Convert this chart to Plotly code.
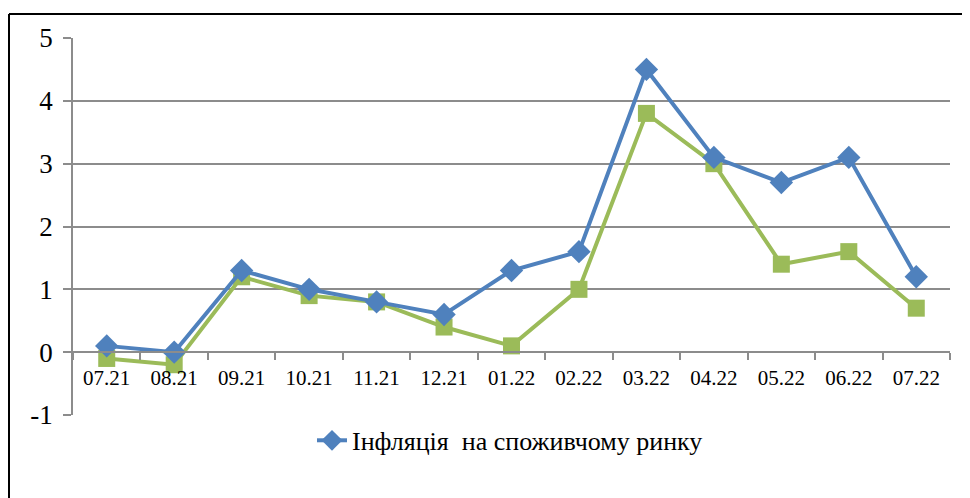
import plotly.graph_objects as go

categories = ["07.21", "08.21", "09.21", "10.21", "11.21", "12.21", "01.22",
              "02.22", "03.22", "04.22", "05.22", "06.22", "07.22"]
inflation_consumer = [0.1, 0.0, 1.3, 1.0, 0.8, 0.6, 1.3, 1.6, 4.5, 3.1, 2.7, 3.1, 1.2]
second_series = [-0.1, -0.2, 1.2, 0.9, 0.8, 0.4, 0.1, 1.0, 3.8, 3.0, 1.4, 1.6, 0.7]
y_ticks = [-1, 0, 1, 2, 3, 4, 5]
legend_label = "Інфляція  на споживчому ринку"

OFF = 8  # default page body margin
W, H = 970 - OFF, 498 - OFF
L, T = 73 - OFF, 38 - OFF
R = 970 - 950
B = 498 - 415
pw, ph = W - L - R, H - T - B

fig = go.Figure()
fig.add_trace(go.Scatter(
    x=categories, y=second_series, mode="lines+markers",
    line=dict(color="#9BBB59", width=4),
    marker=dict(symbol="square", size=17, color="#9BBB59"),
    showlegend=False, name="second"))
fig.add_trace(go.Scatter(
    x=categories, y=inflation_consumer, mode="lines+markers",
    line=dict(color="#4F81BD", width=4),
    marker=dict(symbol="diamond", size=18, color="#4F81BD"),
    name=legend_label))

font_family = "Liberation Serif, serif"
fig.update_layout(
    width=W, height=H,
    margin=dict(l=L, r=R, t=T, b=B),
    paper_bgcolor="white", plot_bgcolor="white",
    font=dict(family=font_family, color="black"),
    showlegend=True,
    legend=dict(orientation="h", x=(312 - 73) / pw, xanchor="left",
                y=-0.005, yanchor="top", font=dict(size=26, family=font_family),
                bgcolor="rgba(0,0,0,0)"),
    xaxis=dict(type="category", range=[-0.5, len(categories) - 0.5],
               anchor="free", position=1 / 6,
               showline=True, linecolor="#8c8c8c", linewidth=1.5,
               ticks="outside", ticklen=7, tickcolor="#8c8c8c", tickwidth=1.5,
               tickson="boundaries", showgrid=False, zeroline=False,
               tickfont=dict(size=21, family=font_family),
               ticklabelstandoff=7),
    yaxis=dict(range=[-1, 5], tickvals=y_ticks, ticktext=[str(v) for v in y_ticks],
               showline=True, linecolor="#8c8c8c", linewidth=1.5,
               ticks="outside", ticklen=8, tickcolor="#8c8c8c", tickwidth=1.5,
               showgrid=True, gridcolor="#8c8c8c", gridwidth=1.5,
               zeroline=False, tickfont=dict(size=27, family=font_family),
               ticklabelstandoff=5),
)

# outer chart border (top and left visible)
x_left = (9 - 73) / pw
y_top = (415 - 14) / ph
fig.add_shape(type="line", xref="paper", yref="paper",
              x0=x_left, x1=(W + 5 - L) / pw, y0=y_top, y1=y_top,
              line=dict(color="black", width=2))
fig.add_shape(type="line", xref="paper", yref="paper",
              x0=x_left, x1=x_left, y0=y_top, y1=(-B - 5) / ph,
              line=dict(color="black", width=2))

fig.write_html("out.html")
